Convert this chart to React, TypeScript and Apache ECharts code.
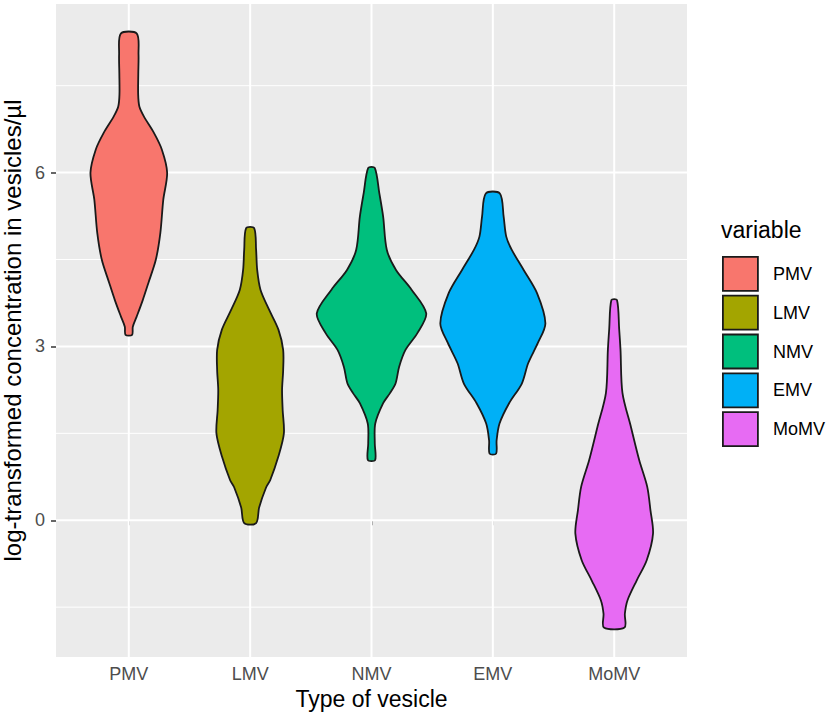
import React, { useEffect, useRef } from "react";
import * as echarts from "echarts";

const categories = ["PMV", "LMV", "NMV", "EMV", "MoMV"];
const colors = ["#F8766D", "#A3A500", "#00BF7D", "#00B0F6", "#E76BF3"];

// Violin outlines: y values (top -> bottom), half widths in x-axis units
const pmvY = [8.4, 8.04, 7.7, 7.35, 7.14, 6.97, 6.69, 6.4, 6.0, 5.53, 4.96, 4.5, 4.1, 3.8, 3.51, 3.34, 3.2];
const pmvW = [0.066, 0.08, 0.078, 0.077, 0.087, 0.124, 0.206, 0.272, 0.316, 0.284, 0.26, 0.223, 0.162, 0.115, 0.064, 0.033, 0.027];

const lmvY = [5.04, 4.67, 4.32, 3.98, 3.63, 3.29, 2.94, 2.59, 2.25, 1.9, 1.5, 1.09, 0.69, 0.57, 0.22, -0.05];
const lmvW = [0.033, 0.049, 0.058, 0.085, 0.157, 0.233, 0.272, 0.272, 0.263, 0.268, 0.278, 0.231, 0.165, 0.132, 0.074, 0.049];

const nmvY = [6.08, 5.65, 5.24, 4.67, 4.32, 3.98, 3.57, 3.23, 2.94, 2.65, 2.36, 2.19, 2.02, 1.67, 1.33, 1.04];
const nmvW = [0.027, 0.064, 0.096, 0.126, 0.202, 0.33, 0.451, 0.378, 0.28, 0.228, 0.198, 0.151, 0.096, 0.031, 0.027, 0.03];

const emvY = [5.64, 5.24, 4.9, 4.67, 4.32, 3.92, 3.4, 3.06, 2.71, 2.36, 2.02, 1.67, 1.38, 1.15];
const emvW = [0.058, 0.089, 0.11, 0.155, 0.254, 0.364, 0.433, 0.371, 0.291, 0.239, 0.134, 0.055, 0.031, 0.027];

const momvY = [3.8, 3.3, 2.94, 2.2, 1.61, 1.04, 0.58, 0.17, -0.23, -0.69, -1.04, -1.38, -1.61, -1.85];
const momvW = [0.023, 0.041, 0.052, 0.068, 0.138, 0.206, 0.272, 0.299, 0.32, 0.268, 0.185, 0.11, 0.088, 0.085];

const violinYs = [pmvY, lmvY, nmvY, emvY, momvY];
const violinWs = [pmvW, lmvW, nmvW, emvW, momvW];

const yMajor = [0, 3, 6];
const yMinor = [-1.5, 1.5, 4.5, 7.5];
const xPositions = [1, 2, 3, 4, 5];

const Y_MIN = -2.36;
const Y_MAX = 8.91;
const X_MIN = 0.4;
const X_MAX = 5.6;

const FONT = "Liberation Sans, Arial, sans-serif";

export default function App() {
  const ref = useRef<HTMLDivElement>(null);

  useEffect(() => {
    if (!ref.current) return;
    const chart = echarts.init(ref.current, undefined, { renderer: "svg" });

    const gridSeries: any = {
      type: "custom",
      name: "__grid",
      silent: true,
      z: 1,
      data: [[1, 0]],
      renderItem: (params: any, api: any) => {
        const children: any[] = [];
        yMinor.forEach((v) => {
          const a = api.coord([X_MIN, v]);
          const b = api.coord([X_MAX, v]);
          children.push({
            type: "line",
            shape: { x1: a[0], y1: a[1], x2: b[0], y2: b[1] },
            style: { stroke: "#FFFFFF", lineWidth: 1 },
          });
        });
        yMajor.forEach((v) => {
          const a = api.coord([X_MIN, v]);
          const b = api.coord([X_MAX, v]);
          children.push({
            type: "line",
            shape: { x1: a[0], y1: a[1], x2: b[0], y2: b[1] },
            style: { stroke: "#FFFFFF", lineWidth: 2 },
          });
        });
        xPositions.forEach((v) => {
          const a = api.coord([v, Y_MIN]);
          const b = api.coord([v, Y_MAX]);
          children.push({
            type: "line",
            shape: { x1: a[0], y1: a[1], x2: b[0], y2: b[1] },
            style: { stroke: "#FFFFFF", lineWidth: 2 },
          });
        });
        return { type: "group", children };
      },
    };

    const violinSeries = categories.map((name, i) => ({
      type: "custom",
      name,
      z: 2,
      itemStyle: { color: colors[i], borderColor: "#1a1a1a", borderWidth: 1.8 },
      data: [[i + 1, 0]],
      renderItem: (params: any, api: any) => {
        const ys = violinYs[i];
        const ws = violinWs[i];
        const cx = i + 1;
        const pts: number[][] = [];
        for (let k = 0; k < ys.length; k++) pts.push(api.coord([cx + ws[k], ys[k]]));
        for (let k = ys.length - 1; k >= 0; k--) pts.push(api.coord([cx - ws[k], ys[k]]));
        return {
          type: "polygon",
          shape: { points: pts, smooth: 0.3 },
          style: { fill: colors[i], stroke: "#1a1a1a", lineWidth: 1.8 },
        };
      },
    }));

    chart.setOption({
      animation: false,
      backgroundColor: "#FFFFFF",
      textStyle: { fontFamily: FONT },
      title: {
        text: "variable",
        left: 721,
        top: 218,
        padding: 0,
        textStyle: { fontFamily: FONT, fontSize: 23, fontWeight: "normal", color: "#000000" },
      },
      legend: {
        data: categories,
        orient: "vertical",
        left: 722,
        top: 256,
        padding: 0,
        itemWidth: 35,
        itemHeight: 34,
        itemGap: 3,
        icon: "rect",
        itemStyle: { borderColor: "#1a1a1a", borderWidth: 1.8 },
        textStyle: { fontFamily: FONT, fontSize: 18, color: "#000000", padding: [0, 0, 0, 10] },
        selectedMode: false,
      },
      grid: {
        left: 56,
        right: 142,
        top: 4,
        bottom: 63,
        show: true,
        backgroundColor: "#EBEBEB",
        borderWidth: 0,
        outerBoundsMode: "none",
      },
      xAxis: {
        type: "value",
        min: X_MIN,
        max: X_MAX,
        name: "Type of vesicle",
        nameLocation: "middle",
        nameGap: 29,
        nameTextStyle: { fontFamily: FONT, fontSize: 23, color: "#000000" },
        axisLine: { show: false },
        splitLine: { show: false },
        axisTick: {
          show: true,
          customValues: xPositions,
          length: 5,
          lineStyle: { color: "#333333", width: 1.5 },
        },
        axisLabel: {
          customValues: xPositions,
          margin: 8,
          fontFamily: FONT,
          fontSize: 18,
          color: "#4D4D4D",
          formatter: (v: number) => categories[Math.round(v) - 1] ?? "",
        },
      },
      yAxis: {
        type: "value",
        min: Y_MIN,
        max: Y_MAX,
        name: "log-transformed concentration in vesicles/µl",
        nameLocation: "middle",
        nameGap: 22,
        nameTextStyle: { fontFamily: FONT, fontSize: 24, color: "#000000" },
        axisLine: { show: false },
        splitLine: { show: false },
        axisTick: {
          show: true,
          customValues: yMajor,
          length: 5,
          lineStyle: { color: "#333333", width: 1.5 },
        },
        axisLabel: {
          customValues: yMajor,
          margin: 11,
          fontFamily: FONT,
          fontSize: 18,
          color: "#4D4D4D",
        },
      },
      series: [gridSeries, ...violinSeries],
    });

    return () => {
      chart.dispose();
    };
  }, []);

  return (
    <div
      ref={ref}
      style={{ position: "fixed", left: 0, top: 0, width: 829, height: 720 }}
    />
  );
}
